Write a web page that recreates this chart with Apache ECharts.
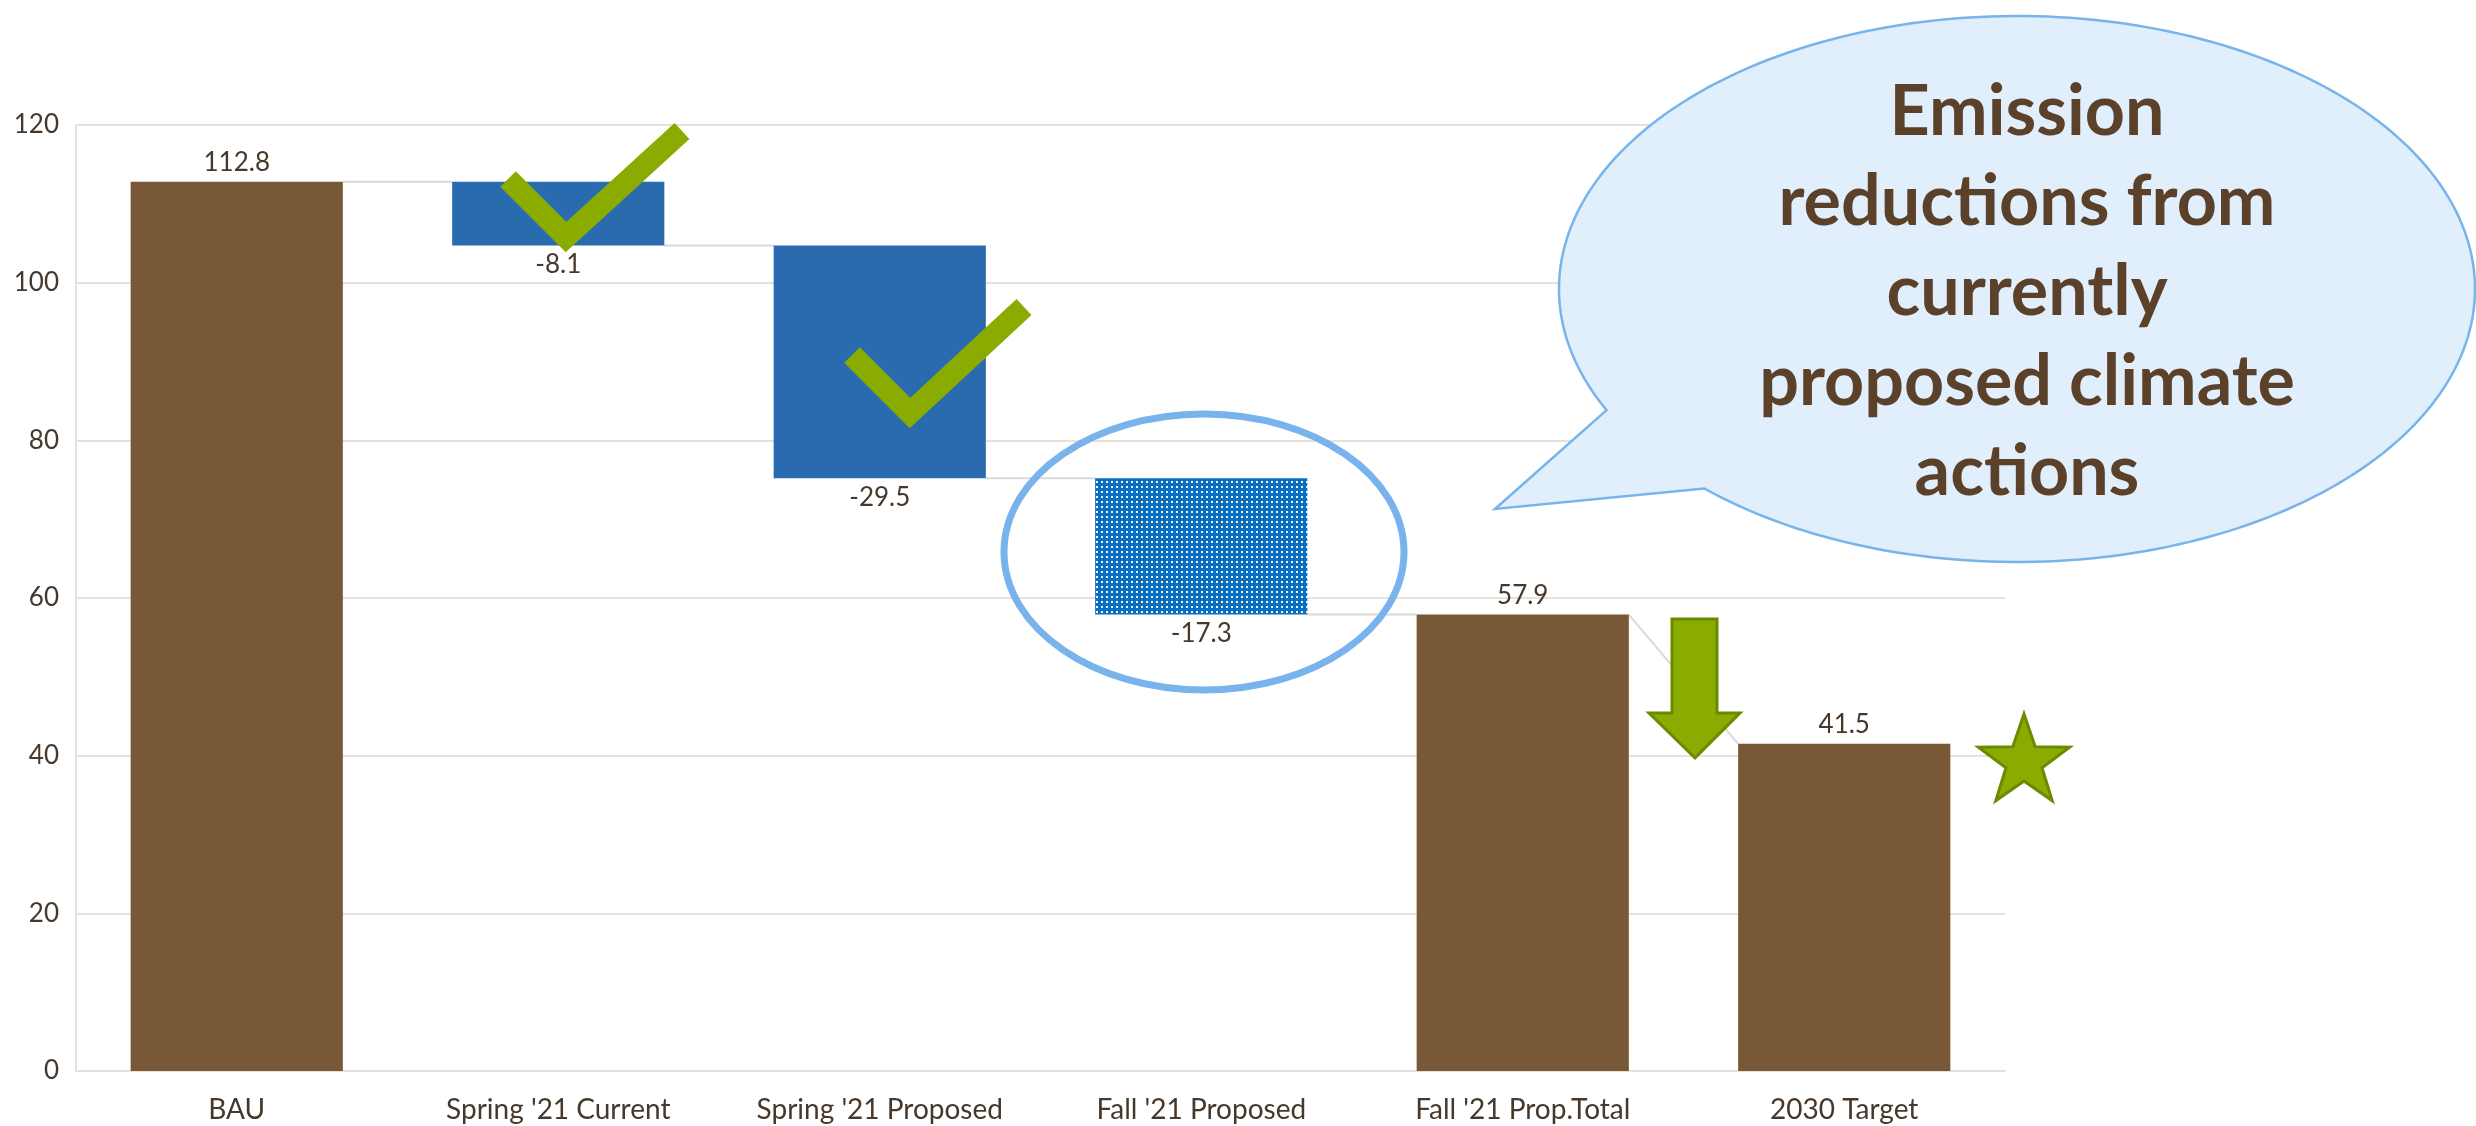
<!DOCTYPE html>
<html>
<head>
<meta charset="utf-8">
<style>
html,body{margin:0;padding:0;background:#fff;}
#chart{width:2476px;height:1126px;}
</style>
<script src="https://cdn.jsdelivr.net/npm/echarts@6/dist/echarts.min.js"></script>
</head>
<body>
<div id="chart"></div>
<script>
// ---- data ----
const categories = ['BAU', "Spring '21 Current", "Spring '21 Proposed", "Fall '21 Proposed", "Fall '21 Prop.Total", '2030 Target'];
const values = [112.8, -8.1, -29.5, -17.3, 57.9, 41.5];
const isTotal = [true, false, false, false, true, true];
const kinds = ['total', 'adopted', 'adopted', 'proposed', 'total', 'total'];
const yMin = 0, yMax = 120, yStep = 20;
const calloutText = ['Emission', 'reductions from', 'currently', 'proposed climate', 'actions'];

// ---- waterfall geometry from values ----
const base = [], height = [], startLvl = [], endLvl = [];
let running = 0;
values.forEach((v, i) => {
  if (isTotal[i]) {
    base.push(0); height.push(v); startLvl.push(v); endLvl.push(v); running = v;
  } else {
    startLvl.push(running);
    running = running + v;
    base.push(Math.min(running, running - v));
    height.push(Math.abs(v));
    endLvl.push(running);
  }
});
const connectors = [];
for (let i = 0; i < values.length - 1; i++) connectors.push([i, endLvl[i], startLvl[i + 1]]);

// ---- styles ----
const TXT = '#46382b';
const FONT = 'Lato, "Open Sans", sans-serif';
function patternCanvas() {
  const c = document.createElement('canvas');
  c.width = 5; c.height = 5;
  const g = c.getContext('2d');
  g.fillStyle = '#0a6fc0'; g.fillRect(0, 0, 5, 5);
  g.fillStyle = '#eef4fb'; g.fillRect(1, 1, 2, 2);
  return c;
}
const colorFor = {
  total: '#785837',
  adopted: '#2a6bb0',
  proposed: { image: patternCanvas(), repeat: 'repeat' }
};
const gapRatio = 0.34;

const chart = echarts.init(document.getElementById('chart'), null, { renderer: 'canvas' });

// bubble outline points (decoration)
function bubblePoints() {
  const cx = 2017, cy = 289, rx = 458, ry = 273;
  const t1 = Math.atan2((410 - cy) / ry, (1607 - cx) / rx);
  const t2 = Math.atan2((488 - cy) / ry, (1705 - cx) / rx);
  const pts = [[cx + rx * Math.cos(t1), cy + ry * Math.sin(t1)], [1495, 509]];
  const end = t1 - 2 * Math.PI;
  const N = 240;
  for (let k = 0; k <= N; k++) {
    const t = t2 + (end - t2) * k / N;
    pts.push([cx + rx * Math.cos(t), cy + ry * Math.sin(t)]);
  }
  return pts;
}
function starPoints(cx, cy, r, r0) {
  const pts = [];
  for (let k = 0; k < 10; k++) {
    const a = -Math.PI / 2 + k * Math.PI / 5;
    const rr = k % 2 === 0 ? r : r0;
    pts.push([cx + rr * Math.cos(a), cy + rr * Math.sin(a)]);
  }
  return pts;
}

const option = {
  animation: false,
  backgroundColor: '#ffffff',
  grid: { left: 76, right: 471, top: 125, bottom: 55, containLabel: false },
  xAxis: {
    type: 'category',
    data: categories,
    axisLine: { show: true, lineStyle: { color: '#e6e1d9', width: 2 } },
    axisTick: { show: false },
    axisLabel: { color: TXT, fontFamily: FONT, fontSize: 28, margin: 25, interval: 0 }
  },
  yAxis: {
    type: 'value',
    min: yMin, max: yMax, interval: yStep,
    axisLine: { show: true, lineStyle: { color: '#e6e1d9', width: 2 } },
    axisTick: { show: false },
    splitLine: { lineStyle: { color: '#e6e1d9', width: 2 } },
    axisLabel: { color: TXT, fontFamily: FONT, fontSize: 26, margin: 17 }
  },
  series: [
    {
      name: 'base', type: 'bar', stack: 'wf', silent: true,
      barCategoryGap: (gapRatio * 100) + '%',
      itemStyle: { color: 'rgba(0,0,0,0)' },
      data: base
    },
    {
      name: 'value', type: 'bar', stack: 'wf',
      barCategoryGap: (gapRatio * 100) + '%',
      data: height.map((h, i) => ({
        value: h,
        itemStyle: { color: colorFor[kinds[i]] },
        label: { position: isTotal[i] ? 'top' : 'bottom' }
      })),
      label: {
        show: true, distance: 6, color: TXT, fontFamily: FONT, fontSize: 26,
        formatter: p => values[p.dataIndex].toFixed(1)
      },
      z: 3
    },
    {
      name: 'connectors', type: 'custom', silent: true, z: 1,
      data: connectors,
      renderItem: function (params, api) {
        const i = api.value(0);
        const p1 = api.coord([i, api.value(1)]);
        const p2 = api.coord([i + 1, api.value(2)]);
        const half = api.size([1, 0])[0] * (1 - gapRatio) / 2;
        return {
          type: 'line',
          shape: { x1: p1[0] + half, y1: p1[1], x2: p2[0] - half, y2: p2[1] },
          style: { stroke: '#d9d9d9', lineWidth: 2 }
        };
      }
    }
  ],
  graphic: [
    // check marks
    { type: 'polyline', z: 10, shape: { points: [[508, 179], [566, 237], [682, 131]] },
      style: { stroke: '#8aab00', lineWidth: 22, fill: null, lineJoin: 'miter', lineCap: 'butt' } },
    { type: 'polyline', z: 10, shape: { points: [[852, 355], [910, 413], [1024, 307]] },
      style: { stroke: '#8aab00', lineWidth: 22, fill: null, lineJoin: 'miter', lineCap: 'butt' } },
    // ellipse highlight
    { type: 'ellipse', z: 10, shape: { cx: 1204, cy: 552, rx: 200, ry: 138 },
      style: { fill: null, stroke: '#79b3ec', lineWidth: 7 } },
    // down arrow
    { type: 'polygon', z: 10,
      shape: { points: [[1672, 619], [1717, 619], [1717, 713], [1740, 713], [1695, 758], [1649, 713], [1672, 713]] },
      style: { fill: '#8aab00', stroke: '#6c8a00', lineWidth: 3 } },
    // star
    { type: 'polygon', z: 10, shape: { points: starPoints(2024, 762, 48, 19) },
      style: { fill: '#8aab00', stroke: '#6c8a00', lineWidth: 3 } },
    // speech bubble
    { type: 'polygon', z: 10, shape: { points: bubblePoints() },
      style: { fill: '#e1eefb', stroke: '#78b4ec', lineWidth: 2.5 } },
    { type: 'text', z: 11,
      style: {
        text: calloutText.join('\n'), x: 2027, y: 292,
        align: 'center', verticalAlign: 'middle', textAlign: 'center', textVerticalAlign: 'middle',
        fontFamily: FONT, fontWeight: 'bold', fontSize: 70, lineHeight: 90, fill: '#5b412a'
      } }
  ]
};
chart.setOption(option);
</script>
</body>
</html>
